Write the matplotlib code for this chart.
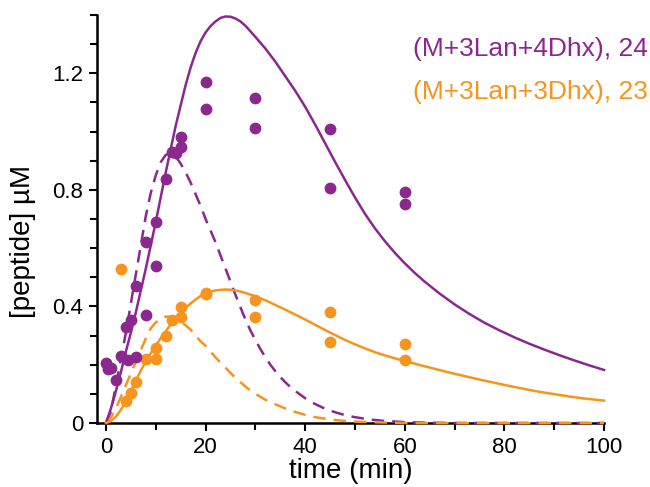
import matplotlib
matplotlib.use("Agg")
import matplotlib.pyplot as plt
from matplotlib.ticker import MultipleLocator

plt.rcParams['font.family'] = ['Liberation Sans', 'DejaVu Sans']

PURPLE = "#8B288E"
ORANGE = "#F7941D"

# ---- measured points: (M+3Lan+4Dhx), 24 ----
p24_t = [0, 0.5, 1, 2, 3, 4, 4.5, 5, 6, 6, 8, 8, 10, 10, 12, 13.3, 14, 15, 15,
         20, 20, 30, 30, 45, 45, 60, 60]
p24_v = [0.205, 0.185, 0.19, 0.148, 0.23, 0.33, 0.215, 0.353, 0.228, 0.47,
         0.37, 0.62, 0.54, 0.69, 0.838, 0.93, 0.925, 0.947, 0.983,
         1.17, 1.076, 1.114, 1.012, 1.01, 0.806, 0.793, 0.753]

# ---- measured points: (M+3Lan+3Dhx), 23 ----
p23_t = [3, 4, 5, 6, 8, 10, 10, 12, 13.3, 15, 15, 20, 20, 30, 30, 45, 45, 60, 60]
p23_v = [0.527, 0.074, 0.103, 0.139, 0.219, 0.219, 0.259, 0.299, 0.354,
         0.363, 0.397, 0.441, 0.447, 0.422, 0.363, 0.382, 0.277, 0.271, 0.217]

# ---- fitted curve, 24 (solid) ----
f24_t = [0, 1, 2, 3, 4, 5, 6, 7, 8, 9, 10, 11, 12, 13, 14, 15, 16, 17, 18, 19,
         20, 21, 22, 23, 24, 25, 26, 27, 28, 30, 32, 34, 36, 38, 40, 42, 44,
         46, 48, 50, 52, 54, 56, 58, 60, 62, 64, 67, 70, 73, 76, 79, 82, 85,
         88, 91, 94, 97, 100]
f24_v = [0, 0.05, 0.11, 0.175, 0.245, 0.31, 0.38, 0.455, 0.53, 0.61, 0.69,
         0.775, 0.86, 0.94, 1.02, 1.09, 1.16, 1.22, 1.27, 1.31, 1.34, 1.362,
         1.378, 1.39, 1.395, 1.394, 1.388, 1.378, 1.363, 1.325, 1.285, 1.24,
         1.19, 1.14, 1.085, 1.024, 0.96, 0.896, 0.834, 0.774, 0.718, 0.668,
         0.624, 0.584, 0.548, 0.515, 0.485, 0.444, 0.407, 0.374, 0.344,
         0.318, 0.294, 0.272, 0.252, 0.233, 0.215, 0.198, 0.182]

# ---- model curve, 24 (dashed) ----
d24_t = [0, 1, 2, 3, 4, 5, 6, 7, 8, 9, 10, 11, 12, 13, 14, 15, 16, 17, 18,
         19, 20, 21, 22, 23, 24, 25, 26, 27, 28, 29, 30, 31, 32, 33, 34, 35,
         36, 37, 38, 40, 42, 44, 46, 48, 50, 53, 56, 60, 65, 70, 100]
d24_v = [0, 0.04, 0.13, 0.22, 0.31, 0.41, 0.51, 0.61, 0.71, 0.79, 0.85,
         0.895, 0.92, 0.925, 0.915, 0.89, 0.86, 0.825, 0.785, 0.745, 0.70,
         0.66, 0.62, 0.575, 0.53, 0.485, 0.44, 0.397, 0.355, 0.318, 0.285,
         0.254, 0.226, 0.2, 0.178, 0.158, 0.14, 0.124, 0.11, 0.085, 0.065,
         0.049, 0.037, 0.027, 0.02, 0.012, 0.007, 0.003, 0.001, 0.0, 0.0]

# ---- fitted curve, 23 (solid) ----
f23_t = [0, 1, 2, 3, 4, 5, 6, 7, 8, 9, 10, 11, 12, 13, 14, 15, 16, 17, 18,
         19, 20, 21, 22, 23, 24, 25, 26, 27, 28, 30, 32, 34, 36, 38, 40, 42,
         44, 46, 48, 50, 52, 54, 56, 58, 60, 63, 66, 69, 72, 75, 78, 81, 84,
         87, 90, 93, 96, 100]
f23_v = [0, 0.007, 0.022, 0.045, 0.075, 0.11, 0.145, 0.18, 0.212, 0.24,
         0.266, 0.291, 0.315, 0.338, 0.359, 0.378, 0.395, 0.41, 0.424, 0.436,
         0.445, 0.451, 0.455, 0.457, 0.458, 0.457, 0.455, 0.451, 0.446,
         0.435, 0.421, 0.405, 0.389, 0.372, 0.355, 0.337, 0.319, 0.302,
         0.285, 0.27, 0.256, 0.243, 0.232, 0.222, 0.213, 0.199, 0.186,
         0.173, 0.161, 0.149, 0.138, 0.127, 0.117, 0.107, 0.099, 0.091,
         0.084, 0.077]

# ---- model curve, 23 (dashed) ----
d23_t = [0, 1, 2, 3, 4, 5, 6, 7, 8, 9, 10, 11, 12, 13, 14, 15, 16, 17, 18,
         19, 20, 21, 22, 23, 24, 25, 26, 27, 28, 29, 30, 31, 32, 33, 34, 35,
         36, 38, 40, 42, 45, 48, 51, 55, 60, 100]
d23_v = [0, 0.02, 0.05, 0.09, 0.13, 0.17, 0.21, 0.25, 0.29, 0.325, 0.345,
         0.358, 0.365, 0.365, 0.358, 0.347, 0.335, 0.32, 0.30, 0.28, 0.265,
         0.245, 0.225, 0.207, 0.19, 0.172, 0.155, 0.14, 0.125, 0.112, 0.1,
         0.09, 0.08, 0.072, 0.064, 0.057, 0.05, 0.038, 0.028, 0.02, 0.012,
         0.007, 0.004, 0.002, 0.0, 0.0]

x_ticks = [0, 20, 40, 60, 80, 100]
y_ticks = [0, 0.4, 0.8, 1.2]
y_ticklabels = ["0", "0.4", "0.8", "1.2"]

fig = plt.figure(figsize=(6.5, 4.87), dpi=100)
ax = fig.add_axes([97/650, 64/487, (604-97)/650, (423-15)/487])

dash = (0, (5.0, 3.2))
kw = dict(lw=1.8, zorder=3, clip_on=False, solid_joinstyle='round',
          dash_joinstyle='round')
ax.plot(d24_t, d24_v, color=PURPLE, ls=dash, **kw)
ax.plot(d23_t, d23_v, color=ORANGE, ls=dash, **kw)
ax.plot(f24_t, f24_v, color=PURPLE, **kw)
ax.plot(f23_t, f23_v, color=ORANGE, **kw)
ax.plot(p23_t, p23_v, 'o', color=ORANGE, ms=8.5, mec='none', zorder=4, clip_on=False)
ax.plot(p24_t, p24_v, 'o', color=PURPLE, ms=8.5, mec='none', zorder=4, clip_on=False)

ax.set_xlim(-1.8, 100)
ax.set_ylim(0, 1.4)
ax.set_xticks(x_ticks)
ax.set_yticks(y_ticks)
ax.set_yticklabels(y_ticklabels)
ax.xaxis.set_minor_locator(MultipleLocator(10))
ax.yaxis.set_minor_locator(MultipleLocator(0.1))

for s in ['top', 'right']:
    ax.spines[s].set_visible(False)
for s in ['left', 'bottom']:
    ax.spines[s].set_linewidth(1.8)
    ax.spines[s].set_zorder(2)

ax.tick_params(which='major', direction='out', length=6, width=1.5,
               labelsize=16, pad=4)
ax.tick_params(which='minor', direction='out', length=5, width=1.5)

ax.set_xlabel("time (min)", fontsize=20, labelpad=0)
ax.set_ylabel("[peptide] µM", fontsize=20)
ax.yaxis.set_label_coords(-0.12, 0.446)

fig.text(648/650, 1 - 49/487, "(M+3Lan+4Dhx), 24", color=PURPLE,
         fontsize=19, ha='right', va='center')
fig.text(648/650, 1 - 92/487, "(M+3Lan+3Dhx), 23", color=ORANGE,
         fontsize=19, ha='right', va='center')

fig.savefig("out.png", dpi=100)
